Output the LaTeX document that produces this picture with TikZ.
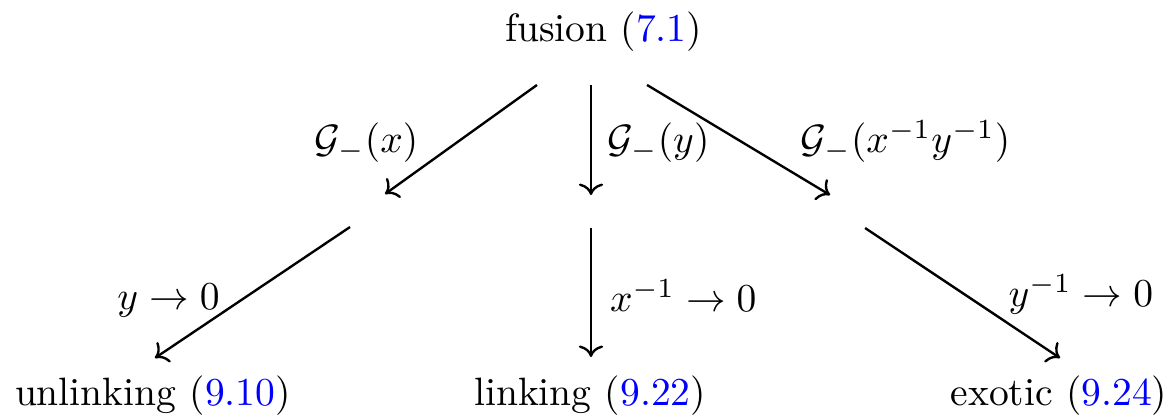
\documentclass[tikz,border=0pt]{standalone}
\usepackage{tikz}
\usetikzlibrary{arrows.meta,positioning,calc}
\definecolor{reflink}{HTML}{0000FF}
\newcommand{\eqnref}[1]{(\textcolor{reflink}{#1})}

\begin{document}
\begin{tikzpicture}[>=To,inner sep=0pt,semithick]
\useasboundingbox (0,0) rectangle (10.431,3.714);
% objects
\node[anchor=base] (fusion) at (5.362,3.343) {fusion \eqnref{7.1}};
\node[anchor=base] (unlink) at (1.359,.107) {unlinking \eqnref{9.10}};
\node[anchor=base] (link) at (5.242,.107) {linking \eqnref{9.22}};
\node[anchor=base] (exotic) at (9.409,.107) {exotic \eqnref{9.24}};
% arrow ends (middle row is empty)
\coordinate (fa) at (4.771,2.959);
\coordinate (fb) at (5.251,2.959);
\coordinate (fc) at (5.749,2.959);
\coordinate (ma) at (3.421,1.990);
\coordinate (mb) at (5.251,1.981);
\coordinate (mc) at (7.375,1.981);
\coordinate (na) at (3.110,1.697);
\coordinate (nb) at (5.251,1.688);
\coordinate (nc) at (7.686,1.688);
\coordinate (ua) at (1.377,.533);
\coordinate (ub) at (5.251,.542);
\coordinate (uc) at (9.418,.533);
\draw[->] (fa)--(ma);
\draw[->] (fb)--(mb);
\draw[->] (fc)--(mc);
\draw[->] (na)--(ua);
\draw[->] (nb)--(ub);
\draw[->] (nc)--(uc);
% labels
\node[anchor=base] (gx) at (3.256,2.355) {$\mathcal{G}_-(x)$};
\node[anchor=base] (gy) at (5.851,2.355) {$\mathcal{G}_-(y)$};
\node[anchor=base] (gxy) at (8.045,2.355) {$\mathcal{G}_-(x^{-1}y^{-1})$};
\node[anchor=base] (ly) at (1.497,.960) {$y\to0$};
\node[anchor=base] (lx) at (6.071,.944) {$x^{-1}\to0$};
\node[anchor=base] (lyi) at (9.603,.989) {$y^{-1}\to0$};
\end{tikzpicture}
\end{document}
